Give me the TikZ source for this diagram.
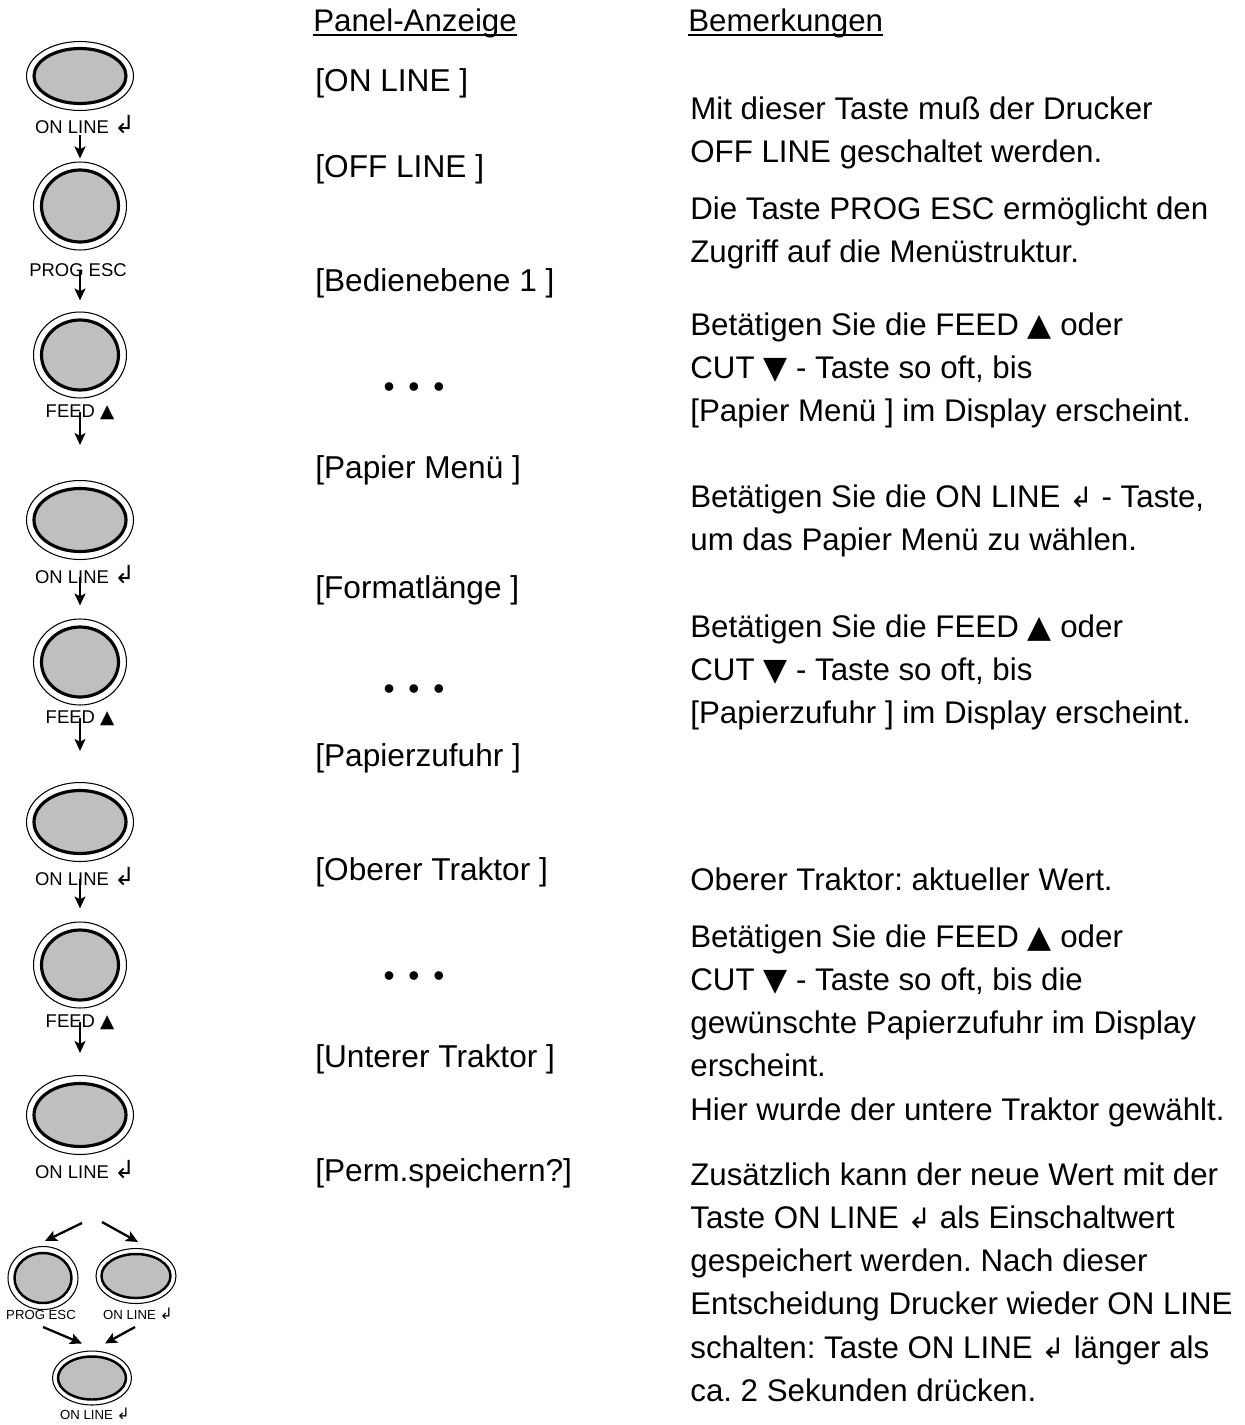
\documentclass[tikz,border=0pt]{standalone}
\usepackage{fontspec}
\setmainfont{Liberation Sans}
\newfontfamily\symfont{DejaVu Sans}
\usepackage{graphicx}
\usepackage{tikz}
\usetikzlibrary{arrows.meta,positioning,shapes.geometric}
\frenchspacing
\newcommand{\auf}{{\symfont ▲}}
\newcommand{\ab}{{\symfont ▼}}
\newcommand{\enter}[1][.9]{\raisebox{0pt}[0pt][0pt]{\symfont\scalebox{#1}{↲}}}
\tikzset{
  % Key: thin outer ring
  ring/.style={ellipse,draw=black,line width=0.6pt,fill=white,inner sep=0pt},
  % Key: grey cap, thick border
  kern/.style={ellipse,draw=black,line width=1.8pt,fill=black!25,inner sep=0pt},
  ringw/.style={ring,minimum width=2.14cm,minimum height=1.58cm},
  kernw/.style={kern,minimum width=1.84cm,minimum height=1.26cm},
  ringr/.style={ring,minimum width=1.86cm,minimum height=1.72cm},
  kernr/.style={kern,minimum width=1.54cm,minimum height=1.40cm},
  % Key labels
  tlbl/.style={inner sep=0.5pt,font=\fontsize{10.5}{12}\selectfont},
  tlbs/.style={inner sep=0.5pt,font=\fontsize{7.5}{9}\selectfont},
  % Column heads
  kopf/.style={anchor=base west,inner sep=0pt,font=\fontsize{17.8}{24.6}\selectfont},
  % Panel display text
  anz/.style={anchor=base west,inner sep=0pt,font=\fontsize{18}{24.6}\selectfont},
  punkte/.style={inner sep=0pt,font=\fontsize{18}{24.6}\selectfont},
  % Remarks
  bem/.style={anchor=north west,align=left,inner sep=0pt,
    font=\fontsize{17.8}{24.6}\selectfont},
  % Arrows
  pfeil/.style={-{Stealth[length=6.8pt,width=6.2pt,inset=1.5pt]},line width=1.3pt},
  uline/.style={line width=1pt},
}
\begin{document}
\begin{tikzpicture}[x=0.02cm,y=-0.02cm]
  \useasboundingbox (0,0) rectangle (1244,1425);

  % Keys (left column)
  \node[ringw,minimum height=1.38cm] (k1r) at (80,76) {};
  \node[kernw,minimum height=1.10cm] (k1) at (80,76) {};
  \node[tlbl] (t1) at (85,127) {ON LINE \enter[1.35]};
  \node[ringr,minimum height=1.76cm] (k2r) at (80,206) {};
  \node[kernr,minimum height=1.44cm] (k2) at (80,206) {};
  \node[tlbl] (t2) at (78,270) {PROG ESC};
  \node[ringr] (k3r) at (80,355) {};
  \node[kernr] (k3) at (80,355) {};
  \node[tlbl] (t3) at (80,412) {FEED \auf};
  \node[ringw] (k4r) at (80,520) {};
  \node[kernw] (k4) at (80,520) {};
  \node[tlbl] (t4) at (85,577) {ON LINE \enter[1.35]};
  \node[ringr] (k5r) at (80,662) {};
  \node[kernr] (k5) at (80,662) {};
  \node[tlbl] (t5) at (80,718) {FEED \auf};
  \node[ringw] (k6r) at (80,822) {};
  \node[kernw] (k6) at (80,822) {};
  \node[tlbl] (t6) at (85,879) {ON LINE \enter[1.35]};
  \node[ringr] (k7r) at (80,965) {};
  \node[kernr] (k7) at (80,965) {};
  \node[tlbl] (t7) at (80,1022) {FEED \auf};
  \node[ringw] (k8r) at (80,1115) {};
  \node[kernw] (k8) at (80,1115) {};
  \node[tlbl] (t8) at (85,1172) {ON LINE \enter[1.35]};

  % Choice at the end
  \node[ring,minimum width=1.40cm,minimum height=1.26cm] (k9r) at (43,1278) {};
  \node[kern,line width=1.4pt,minimum width=1.14cm,minimum height=1.00cm] (k9) at (43,1278) {};
  \node[tlbs] (t9) at (41,1315) {PROG ESC};
  \node[ring,minimum width=1.60cm,minimum height=1.10cm] (k10r) at (136,1276) {};
  \node[kern,line width=1.4pt,minimum width=1.38cm,minimum height=0.88cm] (k10) at (136,1276) {};
  \node[tlbs] (t10) at (138,1315) {ON LINE \enter[1.2]};
  \node[ring,minimum width=1.58cm,minimum height=1.08cm] (k11r) at (92,1378) {};
  \node[kern,line width=1.4pt,minimum width=1.36cm,minimum height=0.86cm] (k11) at (92,1378) {};
  \node[tlbs] (t11) at (95,1415) {ON LINE \enter[1.2]};

  % Key arrows
  \draw[pfeil,shorten >=0.06cm] (t1.south -| k2r) -- (k2r.north);
  \draw[pfeil,shorten >=0.22cm] (t2.center -| k3r) -- (k3r.north);
  \draw[pfeil,shorten >=0.70cm] (t3.center -| k4r) -- (k4r.north);
  \draw[pfeil,shorten >=0.26cm] (t4.center -| k5r) -- (k5r.north);
  \draw[pfeil,shorten >=0.62cm] (t5.center -| k6r) -- (k6r.north);
  \draw[pfeil,shorten >=0.26cm] (t6.center -| k7r) -- (k7r.north);
  \draw[pfeil,shorten >=0.44cm] (t7.center -| k8r) -- (k8r.north);
  \draw[pfeil] ([shift={(-3,51)}]t8.center) -- ([shift={(2,-5)}]k9r.north);
  \draw[pfeil] ([shift={(17,50)}]t8.center) -- ([shift={(2,-6)}]k10r.north);
  \draw[pfeil] ([shift={(2,12)}]t9.center) -- ([shift={(-10,-7)}]k11r.north);
  \draw[pfeil] ([shift={(-3,12)}]t10.center) -- ([shift={(13,-7)}]k11r.north);

  % Column heads
  \node[kopf] (h1) at (313,32) {Panel-Anzeige};
  \node[kopf] (h2) at (688,32) {Bemerkungen};
  \draw[uline] ([shift={(0,3)}]h1.base west) -- ([shift={(0,3)}]h1.base east);
  \draw[uline] ([shift={(0,3)}]h2.base west) -- ([shift={(0,3)}]h2.base east);

  % Panel display
  \node[anz] (p1) at (315,92) {[ON LINE ]};
  \node[anz] (p2) at (315,178) {[OFF LINE ]};
  \node[anz] (p3) at (315,292) {[Bedienebene 1 ]};
  \node[punkte] (d1) at (414,390) {•\kern7.9pt•\kern7.9pt•};
  \node[anz] (p4) at (315,478) {[Papier Menü ]};
  \node[anz] (p5) at (315,598) {[Formatlänge ]};
  \node[punkte] (d2) at (414,692) {•\kern7.9pt•\kern7.9pt•};
  \node[anz] (p6) at (315,766) {[Papierzufuhr ]};
  \node[anz] (p7) at (315,880) {[Oberer Traktor ]};
  \node[punkte] (d3) at (414,979) {•\kern7.9pt•\kern7.9pt•};
  \node[anz] (p8) at (315,1067) {[Unterer Traktor ]};
  \node[anz] (p9) at (315,1181) {[Perm.speichern?]};

  % Remarks
  \node[bem] (b1) at (690,88.7)
    {\strut Mit dieser Taste muß der Drucker\\OFF LINE geschaltet werden.};
  \node[bem] (b2) at (690,188.7)
    {\strut Die Taste PROG ESC ermöglicht den\\Zugriff auf die Menüstruktur.};
  \node[bem] (b3) at (690,304.7)
    {\strut Betätigen Sie die FEED \auf{} oder\\CUT \ab{} - Taste so oft, bis\\{[}Papier Menü ] im Display erscheint.};
  \node[bem] (b4) at (690,476.7)
    {\strut Betätigen Sie die ON LINE \enter{} - Taste,\\um das Papier Menü zu wählen.};
  \node[bem] (b5) at (690,606.7)
    {\strut Betätigen Sie die FEED \auf{} oder\\CUT \ab{} - Taste so oft, bis\\{[}Papierzufuhr ] im Display erscheint.};
  \node[bem] (b6) at (690,859.7)
    {\strut Oberer Traktor: aktueller Wert.};
  \node[bem] (b7) at (690,916.7)
    {\strut Betätigen Sie die FEED \auf{} oder\\CUT \ab{} - Taste so oft, bis die\\gewünschte Papierzufuhr im Display\\erscheint.\\Hier wurde der untere Traktor gewählt.};
  \node[bem] (b8) at (690,1154.7)
    {\strut Zusätzlich kann der neue Wert mit der\\Taste ON LINE \enter{}\ als Einschaltwert\\gespeichert werden. Nach dieser\\Entscheidung Drucker wieder ON LINE\\schalten: Taste\ ON LINE \enter{}\ länger als\\ca. 2 Sekunden drücken.};
\end{tikzpicture}
\end{document}
